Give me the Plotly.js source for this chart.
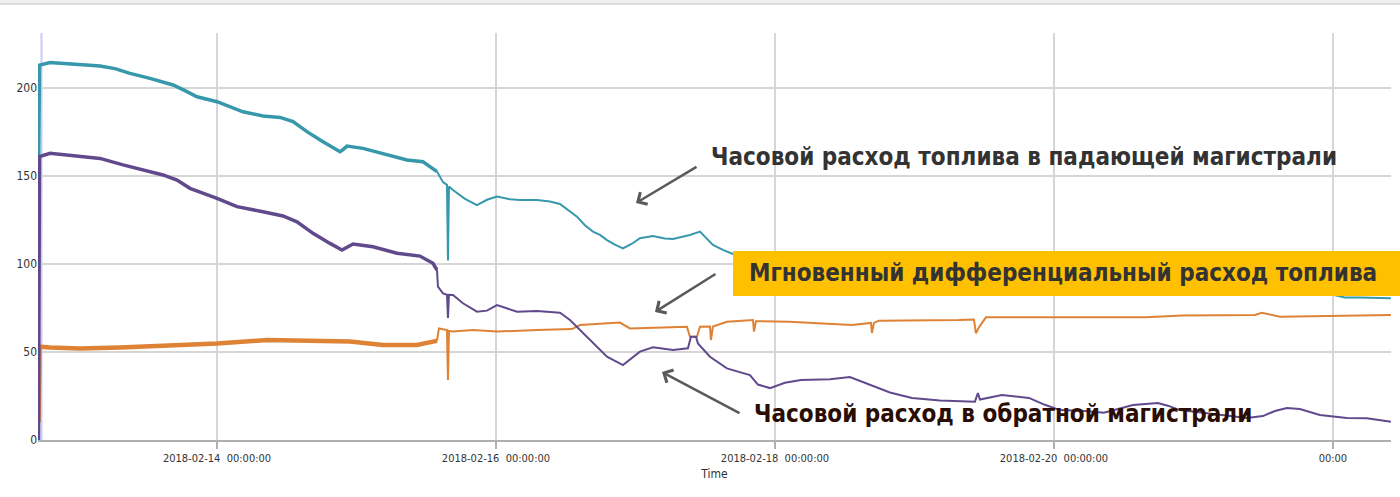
<!DOCTYPE html>
<html>
<head>
<meta charset="utf-8">
<script src="https://cdn.plot.ly/plotly-3.0.1.min.js"></script>
<style>
  html, body { margin: 0; padding: 0; background: #fff; }
  #chart { width: 1400px; height: 497px; }
</style>
</head>
<body>
<div id="chart"></div>
<script>
// Fuel flow, 2018-02-12 .. 2018-02-22. Times are hours since 2018-02-14 00:00.

const tealHours = [-30.71, -30.54, -28.73, -26.15, -23.57, -20.13, -17.55, -14.97, -11.53, -7.57, -5.51, -3.44, 0, 2.24, 4.47, 7.91, 10.84, 13.08, 15.48, 18.24, 21.16, 21.68, 22.37, 25.12, 28.56, 32.69, 35.44, 37.16, 37.85, 38.88, 39.57, 39.74, 39.91, 40.60, 42.67, 44.73, 46.45, 48.17, 50.41, 52.13, 55.05, 57.29, 59.01, 60.73, 61.94, 63.31, 64.69, 65.89, 67.10, 68.47, 69.85, 71.40, 72.77, 75.01, 77.07, 78.45, 81.38, 83.10, 84.30, 85.33, 87.05, 88.77, 93.42, 100.30, 108.90, 117.50, 126.11, 134.71, 143.31, 151.91, 160.52, 169.12, 177.72, 186.32, 191.48, 194.06, 196.65, 201.98];
const tealVals = [150, 213, 214.5, 214, 213.6, 212.5, 211, 208.3, 205.5, 201.7, 198.5, 195, 192.2, 189.5, 186.5, 184.1, 183.3, 180.9, 175.2, 169.5, 163.8, 165, 167, 165.7, 162.9, 159.1, 158.1, 154.5, 152.5, 146.5, 145, 102, 144, 142, 137, 133.5, 136.5, 138.3, 136.8, 136.4, 136.4, 135.5, 134.1, 130, 126.9, 122, 118.4, 116.5, 113.6, 111, 108.9, 111.5, 114.6, 115.9, 114.5, 114.2, 116.5, 118.4, 114, 110.8, 108, 105.7, 103, 100, 97, 94.5, 92, 90, 88, 86.5, 85, 84, 82.5, 83, 83, 81, 81, 80.5];

const purpleHours = [-30.71, -30.54, -28.73, -26.15, -23.57, -20.13, -16.17, -12.73, -9.29, -6.88, -4.65, 0, 3.44, 7.91, 11.35, 13.76, 16.52, 19.44, 21.51, 23.40, 26.84, 30.97, 34.92, 37.16, 37.85, 38.02, 38.88, 39.57, 39.74, 39.91, 40.60, 42.32, 44.73, 46.45, 48.17, 49.89, 51.61, 55.05, 59.01, 60.73, 63.66, 67.10, 69.85, 72.77, 75.01, 78.45, 81.03, 81.55, 82.41, 82.75, 84.82, 87.74, 91.70, 92.39, 93.07, 95.14, 97.72, 100.47, 105.46, 108.90, 112.69, 115.78, 119.57, 124.39, 130.41, 130.92, 131.27, 135.05, 139.70, 142.45, 145.03, 149.33, 152.60, 157.59, 161.89, 163.61, 165.68, 170.84, 177.20, 179.96, 182.02, 184.09, 186.32, 189.76, 194.41, 197.85, 201.98];
const purpleVals = [0, 161, 162.9, 162, 161.4, 160, 156.3, 153.4, 150.6, 147.7, 143, 137.3, 132.6, 129.7, 127.3, 124, 117.4, 111.7, 108, 111.4, 109.8, 106.1, 104.5, 100.4, 96.6, 87.1, 83.3, 82.5, 69.3, 82.5, 82.4, 77.7, 72.9, 73.5, 76.7, 75, 72.9, 73.3, 72.3, 68.2, 58.7, 47.3, 42.6, 50.2, 52.7, 51.1, 52.1, 58.7, 58.7, 54.9, 47.3, 40.7, 36.9, 34.1, 31.5, 29.5, 32.5, 34.1, 34.5, 35.8, 31.2, 27, 23.9, 22.5, 21.8, 26.7, 23, 25.6, 23.9, 20, 17, 16.5, 15.5, 19.9, 21, 19.5, 17, 15, 12.5, 13.6, 16.5, 18.2, 17.6, 14.2, 12.5, 12.3, 10.4];

const orangeHours = [-30.71, -30.54, -28.73, -23.57, -16.69, -9.81, 0, 8.60, 14.28, 19.96, 22.88, 28.56, 34.41, 37.16, 37.85, 38.19, 39.57, 39.74, 39.91, 40.60, 44.04, 48.17, 55.05, 61.08, 62.45, 69.33, 71.05, 75.01, 80.86, 81.38, 82.58, 83.10, 84.82, 84.99, 85.33, 87.74, 92.22, 92.39, 92.73, 98.41, 109.25, 112.52, 112.69, 113.03, 113.89, 127.66, 130.24, 130.58, 131.10, 132.30, 144.52, 159.83, 166.02, 178.58, 179.78, 182.88, 201.98];
const orangeVals = [10, 53, 52.5, 52, 52.5, 53.5, 54.9, 56.8, 56.5, 55.9, 56, 54, 54, 55.9, 56.4, 63.4, 62.5, 34.1, 62, 61.6, 62.5, 61.6, 62.5, 63, 65.3, 66.7, 63.4, 63.8, 64.4, 58.7, 58.7, 64.4, 64.5, 56.8, 64.5, 67.2, 68.2, 61.6, 67.5, 67.2, 65.3, 66.5, 60.8, 66.5, 67.8, 68.2, 68.5, 60.6, 64, 69.7, 69.7, 69.7, 70.8, 71, 72.3, 70, 71];

const tickHours = [0, 48, 96, 144, 192];
const tickLabels = ["2018-02-14\u00a0\u00a000:00:00", "2018-02-16\u00a0\u00a000:00:00", "2018-02-18\u00a0\u00a000:00:00", "2018-02-20\u00a0\u00a000:00:00", "00:00"];
const yTicks = [0, 50, 100, 150, 200];
const xRangeHours = [-30.8, 202];
const yRange = [0, 231.25];

const labelTop = "Часовой расход топлива в падающей магистрали";
const labelMid = "Мгновенный дифференциальный расход топлива";
const labelLow = "Часовой расход в обратной магистрали";

const T0 = Date.UTC(2018, 1, 14);
function toDate(h) {
  return new Date(T0 + h * 3600000).toISOString().slice(0, 19).replace("T", " ");
}

// early part of each series is noisier, drawn a little thicker
const SPLIT = 37.9;
function split(hours, vals) {
  let i = 0;
  while (i + 1 < hours.length && hours[i + 1] <= SPLIT) i++;
  return [
    { x: hours.slice(0, i + 1).map(toDate), y: vals.slice(0, i + 1) },
    { x: hours.slice(i).map(toDate), y: vals.slice(i) },
  ];
}

function traces(hours, vals, color, w1, w2) {
  const [a, b] = split(hours, vals);
  return [
    { type: "scatter", mode: "lines", x: a.x, y: a.y, line: { color, width: w1 }, hoverinfo: "skip" },
    { type: "scatter", mode: "lines", x: b.x, y: b.y, line: { color, width: w2 }, hoverinfo: "skip" },
  ];
}

const FONT = "'Liberation Sans Narrow', 'Arial Narrow', 'DejaVu Sans Condensed', 'Liberation Sans', sans-serif";

const data = [
  ...traces(orangeHours, orangeVals, "#de8236", 4.5, 2),
  ...traces(tealHours, tealVals, "#3797ab", 3.5, 2),
  ...traces(purpleHours, purpleVals, "#614a8c", 3.5, 2),
];

const px = v => (v - 38) / 1353;   // paper helpers for decorations
const py = v => (440 - v) / 407;

function label(x, y, text, color) {
  return { xref: "paper", yref: "paper", x: px(x), y: py(y), xanchor: "center", yanchor: "middle",
           text: "<b>" + text + "</b>", showarrow: false,
           font: { family: FONT, size: 24, color } };
}
function arrow(x, y, ax, ay) {
  return { xref: "paper", yref: "paper", x: px(x), y: py(y), ax, ay, text: "",
           showarrow: true, arrowhead: 4, arrowsize: 1.1, arrowwidth: 2.5, arrowcolor: "#5a5a5a" };
}

const layout = {
  width: 1400, height: 497,
  margin: { l: 38, r: 9, t: 33, b: 57 },
  paper_bgcolor: "#fff", plot_bgcolor: "#fff",
  showlegend: false,
  font: { family: FONT, size: 12, color: "#333" },
  xaxis: {
    range: xRangeHours.map(toDate), type: "date",
    tickmode: "array", tickvals: tickHours.map(toDate), ticktext: tickLabels,
    showgrid: true, gridcolor: "#d6d6d6", gridwidth: 1.5,
    showline: true, linecolor: "#b0b0b0", linewidth: 2,
    ticks: "outside", ticklen: 7, tickcolor: "#b0b0b0", tickwidth: 1.5,
    tickfont: { size: 11, color: "#333" },
    title: { text: "Time", font: { size: 12, color: "#333" }, standoff: 5 },
    zeroline: false,
  },
  yaxis: {
    range: yRange, tickvals: yTicks,
    showgrid: true, gridcolor: "#d6d6d6", gridwidth: 1.5,
    zeroline: false, showline: false, ticks: "",
    tickfont: { size: 12, color: "#333" },
  },
  shapes: [
    { type: "line", xref: "paper", yref: "paper", x0: px(41.5), x1: px(41.5), y0: 0, y1: 1,
      line: { color: "#c9c9fa", width: 2 }, layer: "below" },
    { type: "rect", xref: "paper", yref: "paper", x0: px(0), x1: px(1400), y0: py(4), y1: py(0),
      fillcolor: "#efefef", line: { width: 0 } },
    { type: "line", xref: "paper", yref: "paper", x0: px(0), x1: px(1400), y0: py(4), y1: py(4),
      line: { color: "#d2d2d2", width: 1.5 } },
    { type: "rect", xref: "paper", yref: "paper", x0: px(733), x1: px(1402), y0: py(296), y1: py(251),
      fillcolor: "#ffc000", line: { width: 0 } },
  ],
  annotations: [
    label(1024, 157, labelTop, "#333"),
    label(1063, 273, labelMid, "#333"),
    label(1003, 414, labelLow, "#2a0d04"),
    arrow(636, 203, 62, -37),
    arrow(655, 312, 62, -39),
    arrow(662, 372, 79, 42),
  ],
};

Plotly.newPlot("chart", data, layout, { staticPlot: true, displayModeBar: false });
</script>
</body>
</html>
